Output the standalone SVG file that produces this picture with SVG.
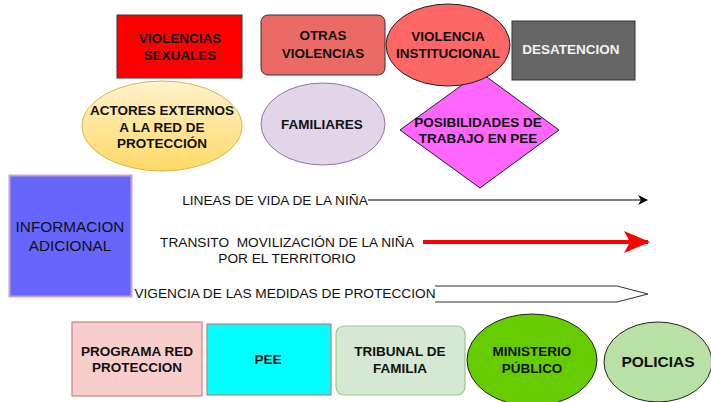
<svg xmlns="http://www.w3.org/2000/svg" width="711" height="402" viewBox="0 0 711 402">
<defs>
<style>
.b{font-family:"Liberation Sans",Arial,sans-serif;font-weight:bold;font-size:13.5px;fill:#111;text-anchor:middle}
.r{font-family:"Liberation Sans",Arial,sans-serif;font-size:13.7px;fill:#111;text-anchor:middle}
</style>
<linearGradient id="yg" x1="0" y1="0" x2="0" y2="1"><stop offset="0" stop-color="#fff2cc"/><stop offset="1" stop-color="#ffd966"/></linearGradient>
<marker id="ab" markerWidth="10" markerHeight="10" refX="9" refY="5" orient="auto" markerUnits="userSpaceOnUse"><path d="M0,0 L10,5 L0,10 L3,5 Z" fill="#000"/></marker>
<marker id="ar" markerWidth="26" markerHeight="22" refX="24" refY="11" orient="auto" markerUnits="userSpaceOnUse"><path d="M0,0 L26,11 L0,22 L6,11 Z" fill="#ff0000"/></marker>
</defs>
<rect width="711" height="402" fill="#fff"/>
<g id="violencias-sexuales"><rect x="117" y="15" width="125" height="63" fill="#ff0000" stroke="#36393d"/><text class="b" x="180" y="43">VIOLENCIAS</text><text class="b" x="180" y="60">SEXUALES</text></g>
<g id="otras-violencias"><rect x="261" y="15" width="124" height="60" rx="7" fill="#ea6b66" stroke="#333"/><text class="b" x="323" y="40">OTRAS</text><text class="b" x="323" y="58">VIOLENCIAS</text></g>
<g id="desatencion"><rect x="512" y="21" width="123" height="59" fill="#666666" stroke="#333"/><text class="b" x="571" y="54" style="fill:#f2f2f2">DESATENCION</text></g>
<g id="posibilidades"><polygon points="480,72 559,130 480,188 400,130" fill="#ff66ff" stroke="#222"/><text class="b" x="478" y="127">POSIBILIDADES DE</text><text class="b" x="478" y="143">TRABAJO EN PEE</text></g>
<g id="violencia-institucional"><ellipse cx="448" cy="45" rx="62" ry="41" fill="#ff6666" stroke="#222"/><text class="b" x="448" y="41">VIOLENCIA</text><text class="b" x="448" y="58">INSTITUCIONAL</text></g>
<g id="actores-externos"><ellipse cx="162" cy="126" rx="80" ry="45" fill="url(#yg)" stroke="#d6b656"/><text class="b" x="162" y="115">ACTORES EXTERNOS</text><text class="b" x="162" y="132">A LA RED DE</text><text class="b" x="162" y="148">PROTECCIÓN</text></g>
<g id="familiares"><ellipse cx="323" cy="124" rx="62" ry="41" fill="#e1d5e7" stroke="#9673a6"/><text class="b" x="322" y="129">FAMILIARES</text></g>
<g id="informacion-adicional"><rect x="9.5" y="175.5" width="122" height="121" fill="#6666ff" stroke="#c9a3c4" stroke-width="2"/><text class="r" x="70" y="232" style="font-size:15.3px">INFORMACION</text><text class="r" x="70" y="251" style="font-size:15.3px">ADICIONAL</text></g>
<g id="lineas-vida"><text class="r" x="275" y="205">LINEAS DE VIDA DE LA NIÑA</text></g>
<g id="transito"><text class="r" x="287" y="247" xml:space="preserve">TRANSITO  MOVILIZACIÓN DE LA NIÑA</text><text class="r" x="287" y="263">POR EL TERRITORIO</text></g>
<g id="vigencia"><text class="r" x="285" y="298">VIGENCIA DE LAS MEDIDAS DE PROTECCION</text></g>
<g id="connectors">
<line x1="368" y1="200" x2="647" y2="200" stroke="#000" stroke-width="1" marker-end="url(#ab)"/>
<line x1="423" y1="242" x2="648" y2="242" stroke="#ff0000" stroke-width="4" marker-end="url(#ar)"/>
<path d="M435,286 L617,286 L648,294 L617,302 L435,302" fill="none" stroke="#333" stroke-width="1"/>
</g>
<g id="programa-red"><rect x="72" y="322" width="130" height="74" fill="#f8cecc" stroke="#d08080" stroke-width="1.2"/><text class="b" x="137" y="356">PROGRAMA RED</text><text class="b" x="137" y="372">PROTECCION</text></g>
<g id="pee"><rect x="207" y="324" width="124" height="71" fill="#00ffff" stroke="#c08080" stroke-width="1.2"/><text class="b" x="268" y="364">PEE</text></g>
<g id="tribunal"><rect x="336" y="326" width="129" height="69" rx="8" fill="#d5e8d4" stroke="#9cc58a" stroke-width="1.2"/><text class="b" x="400" y="356">TRIBUNAL DE</text><text class="b" x="400" y="373">FAMILIA</text></g>
<g id="ministerio"><ellipse cx="532" cy="360" rx="65" ry="46" fill="#66cc00" stroke="#222"/><text class="b" x="532" y="356">MINISTERIO</text><text class="b" x="532" y="373">PÚBLICO</text></g>
<g id="policias"><ellipse cx="658" cy="362" rx="54" ry="40" fill="#b9e0a5" stroke="#222"/><text class="b" x="658" y="367" style="font-size:15.5px">POLICIAS</text></g>
</svg>
